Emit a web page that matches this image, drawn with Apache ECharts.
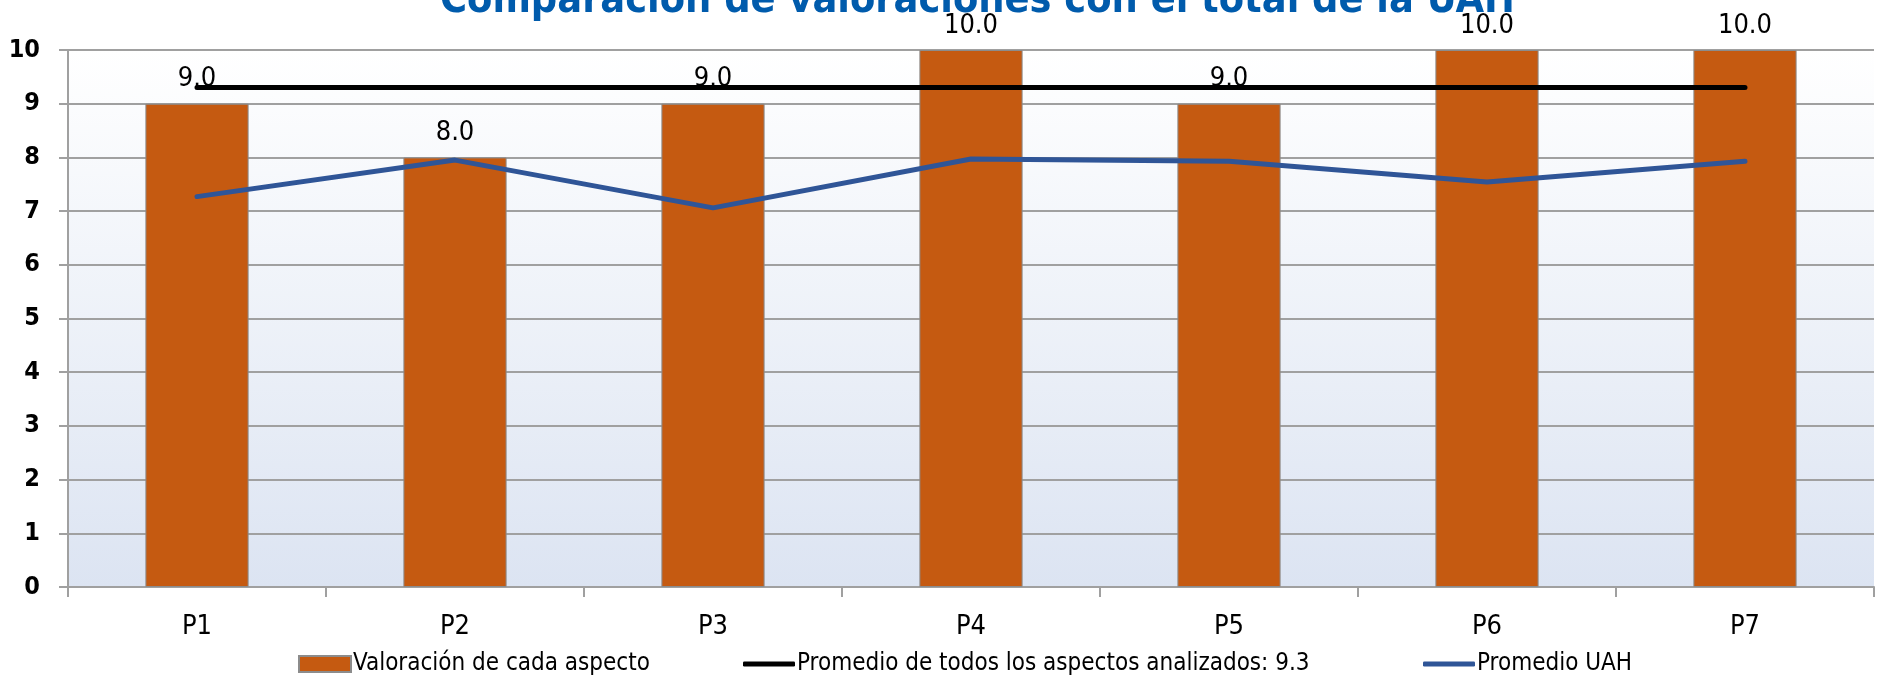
<!DOCTYPE html>
<html>
<head>
<meta charset="utf-8">
<script src="https://cdn.jsdelivr.net/npm/echarts@6/dist/echarts.min.js"></script>
<style>
  html, body { margin: 0; padding: 0; background: #fff; }
  #chart { width: 1877px; height: 675px; }
</style>
</head>
<body>
<div id="chart"></div>
<script>
var categories = ['P1', 'P2', 'P3', 'P4', 'P5', 'P6', 'P7'];
var valoracion = [9, 8, 9, 10, 9, 10, 10];
var promedioTodos = [9.3, 9.3, 9.3, 9.3, 9.3, 9.3, 9.3];
var promedioUAH = [7.27, 7.95, 7.06, 7.97, 7.93, 7.54, 7.93];
var yTicks = [0, 1, 2, 3, 4, 5, 6, 7, 8, 9, 10];

var font = '"DejaVu Sans Condensed", "Liberation Sans Narrow", sans-serif';

(function() {
  var chart = echarts.init(document.getElementById('chart'));
  var legendText = { fontFamily: font, fontSize: 24, color: '#000', padding: [2, 0, 0, -3] };
  var option = {
    animation: false,
    title: {
      text: 'Comparación de valoraciones con el total de la UAH',
      left: 435,
      top: -24,
      textStyle: {
        fontFamily: font,
        fontWeight: 'bold',
        fontSize: 41,
        color: '#005bac'
      }
    },
    legend: [{
      data: [{ name: 'Valoración de cada aspecto', icon: 'rect' }],
      left: 293, top: 647,
      itemWidth: 52, itemHeight: 16,
      textStyle: legendText
    }, {
      data: [{ name: 'Promedio de todos los aspectos analizados: 9.3', icon: 'roundRect' }],
      left: 738, top: 647,
      itemWidth: 52, itemHeight: 5,
      textStyle: legendText
    }, {
      data: [{ name: 'Promedio UAH', icon: 'roundRect' }],
      left: 1418, top: 647,
      itemWidth: 52, itemHeight: 5,
      textStyle: legendText
    }],
    grid: {
      left: 68, right: 3, top: 50, bottom: 88,
      show: true,
      borderWidth: 0,
      backgroundColor: new echarts.graphic.LinearGradient(0, 0, 0, 1, [
        { offset: 0, color: '#ffffff' },
        { offset: 1, color: '#dce4f2' }
      ])
    },
    xAxis: {
      type: 'category',
      data: categories,
      axisLine: { lineStyle: { color: '#a0a0a0', width: 2 } },
      axisTick: { show: true, length: 10, lineStyle: { color: '#a0a0a0', width: 2 } },
      axisLabel: { fontFamily: font, fontSize: 27, color: '#000', margin: 26 }
    },
    yAxis: {
      type: 'value',
      min: yTicks[0],
      max: yTicks[yTicks.length - 1],
      interval: 1,
      axisLine: { show: true, lineStyle: { color: '#a0a0a0', width: 2 } },
      axisTick: { show: true, length: 9, lineStyle: { color: '#a0a0a0', width: 2 } },
      axisLabel: { fontFamily: font, fontWeight: 'bold', fontSize: 25, color: '#000', margin: 28 },
      splitLine: { lineStyle: { color: '#a0a0a0', width: 2 } }
    },
    series: [{
      name: 'Valoración de cada aspecto',
      type: 'bar',
      data: valoracion,
      barWidth: '40%',
      itemStyle: { color: '#c55a11', borderColor: '#8c8c8c', borderWidth: 1 },
      label: {
        show: true,
        position: 'top',
        distance: 11,
        fontFamily: font,
        fontSize: 27,
        color: '#000',
        formatter: function(p) { return p.value.toFixed(1); }
      },
      z: 2
    }, {
      name: 'Promedio de todos los aspectos analizados: 9.3',
      type: 'line',
      data: promedioTodos,
      symbol: 'none',
      lineStyle: { color: '#000', width: 5, cap: 'round' },
      itemStyle: { color: '#000' },
      z: 4
    }, {
      name: 'Promedio UAH',
      type: 'line',
      data: promedioUAH,
      symbol: 'none',
      lineStyle: { color: '#2f5597', width: 5, cap: 'round' },
      itemStyle: { color: '#2f5597' },
      z: 4
    }]
  };
  chart.setOption(option);
})();
</script>
</body>
</html>
